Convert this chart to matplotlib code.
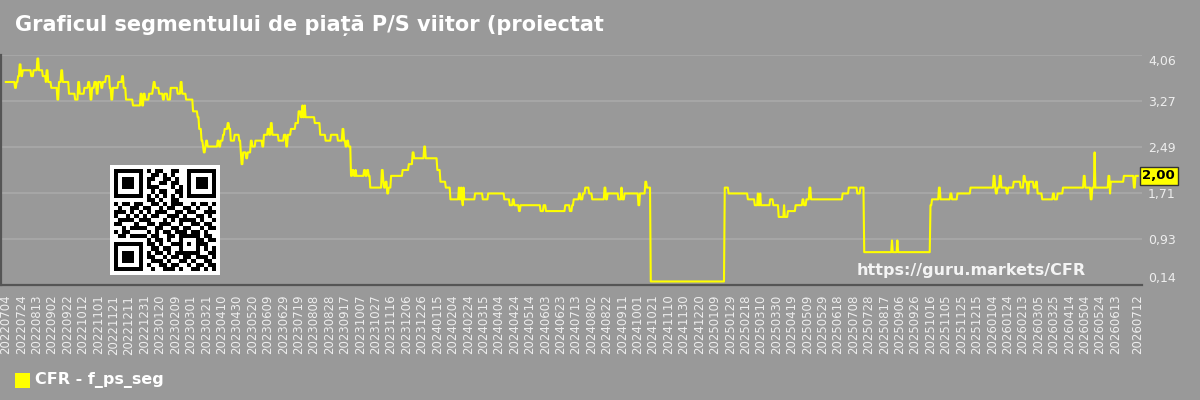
import numpy as np
import pandas as pd
import matplotlib
matplotlib.use("Agg")
import matplotlib.pyplot as plt
import matplotlib.transforms as mtrans
from matplotlib.patches import Rectangle

TITLE = "Graficul segmentului de piață P/S viitor (proiectat"
LEGEND_LABEL = "CFR - f_ps_seg"
WATERMARK = "https://guru.markets/CFR"

# breakpoints of the daily P/S series: from each date on, the value holds until the next one
DATES = [
    "2022-07-04", "2022-07-16", "2022-07-18", "2022-07-20", "2022-07-22", "2022-07-24", "2022-07-26",
    "2022-08-06", "2022-08-09", "2022-08-14", "2022-08-16", "2022-08-21", "2022-08-25", "2022-08-26",
    "2022-08-28", "2022-09-01", "2022-09-09", "2022-09-11", "2022-09-14", "2022-09-16", "2022-09-24",
    "2022-10-02", "2022-10-06", "2022-10-08", "2022-10-14", "2022-10-19", "2022-10-21", "2022-10-22",
    "2022-10-24", "2022-10-27", "2022-10-30", "2022-11-01", "2022-11-05", "2022-11-07", "2022-11-11",
    "2022-11-16", "2022-11-18", "2022-11-20", "2022-11-27", "2022-12-02", "2022-12-04", "2022-12-07",
    "2022-12-16", "2022-12-26", "2022-12-28", "2022-12-30", "2023-01-01", "2023-01-06", "2023-01-11",
    "2023-01-12", "2023-01-14", "2023-01-19", "2023-01-24", "2023-01-26", "2023-01-30", "2023-02-03",
    "2023-02-12", "2023-02-16", "2023-02-18", "2023-02-23", "2023-03-04", "2023-03-10", "2023-03-12",
    "2023-03-15", "2023-03-17", "2023-03-18", "2023-03-20", "2023-03-21", "2023-03-23", "2023-04-05",
    "2023-04-07", "2023-04-09", "2023-04-12", "2023-04-14", "2023-04-18", "2023-04-20", "2023-04-22",
    "2023-04-27", "2023-05-03", "2023-05-05", "2023-05-06", "2023-05-08", "2023-05-12", "2023-05-14",
    "2023-05-18", "2023-05-20", "2023-05-24", "2023-06-02", "2023-06-04", "2023-06-09", "2023-06-11",
    "2023-06-13", "2023-06-15", "2023-06-23", "2023-06-30", "2023-07-03", "2023-07-05", "2023-07-09",
    "2023-07-15", "2023-07-19", "2023-07-22", "2023-07-24", "2023-07-25", "2023-07-27", "2023-07-28",
    "2023-08-09", "2023-08-16", "2023-08-23", "2023-08-30", "2023-09-08", "2023-09-14", "2023-09-16",
    "2023-09-18", "2023-09-20", "2023-09-22", "2023-09-25", "2023-09-27", "2023-09-29", "2023-10-01",
    "2023-10-02", "2023-10-12", "2023-10-14", "2023-10-16", "2023-10-18", "2023-10-20", "2023-11-04",
    "2023-11-06", "2023-11-07", "2023-11-09", "2023-11-11", "2023-11-13", "2023-11-16", "2023-12-01",
    "2023-12-09", "2023-12-14", "2023-12-16", "2023-12-29", "2023-12-31", "2024-01-15", "2024-01-19",
    "2024-01-26", "2024-02-01", "2024-02-12", "2024-02-13", "2024-02-15", "2024-02-16", "2024-02-17",
    "2024-02-18", "2024-02-19", "2024-03-04", "2024-03-14", "2024-03-21", "2024-04-11", "2024-04-18",
    "2024-04-22", "2024-04-24", "2024-04-30", "2024-05-02", "2024-05-28", "2024-06-01", "2024-06-04",
    "2024-06-29", "2024-07-05", "2024-07-08", "2024-07-10", "2024-07-17", "2024-07-19", "2024-07-22",
    "2024-07-25", "2024-07-30", "2024-08-03", "2024-08-19", "2024-08-21", "2024-08-23", "2024-09-06",
    "2024-09-10", "2024-09-11", "2024-09-14", "2024-10-02", "2024-10-04", "2024-10-11", "2024-10-13",
    "2024-10-18", "2025-01-22", "2025-01-27", "2025-02-21", "2025-03-02", "2025-03-06", "2025-03-07",
    "2025-03-09", "2025-03-10", "2025-03-22", "2025-03-26", "2025-04-02", "2025-04-09", "2025-04-10",
    "2025-04-14", "2025-04-24", "2025-05-03", "2025-05-05", "2025-05-08", "2025-05-12", "2025-05-14",
    "2025-06-24", "2025-07-02", "2025-07-13", "2025-07-17", "2025-07-22", "2025-08-27", "2025-08-28",
    "2025-09-03", "2025-09-04", "2025-10-16", "2025-10-18", "2025-10-27", "2025-10-29", "2025-11-11",
    "2025-11-13", "2025-11-20", "2025-12-07", "2026-01-06", "2026-01-08", "2026-01-09", "2026-01-11",
    "2026-01-14", "2026-01-16", "2026-01-23", "2026-01-25", "2026-02-01", "2026-02-10", "2026-02-14",
    "2026-02-16", "2026-02-19", "2026-02-21", "2026-02-27", "2026-03-02", "2026-03-04", "2026-03-10",
    "2026-03-24", "2026-03-26", "2026-03-30", "2026-04-06", "2026-05-03", "2026-05-05", "2026-05-12",
    "2026-05-14", "2026-05-17", "2026-05-18", "2026-06-04", "2026-06-06", "2026-06-07", "2026-06-24",
    "2026-07-07", "2026-07-09", "2026-07-12",
]
VALUES = [
    3.6, 3.5, 3.6, 3.7, 3.9, 3.7, 3.8,
    3.7, 3.8, 4.0, 3.8, 3.7, 3.6, 3.8,
    3.6, 3.5, 3.3, 3.6, 3.8, 3.6, 3.4,
    3.3, 3.6, 3.4, 3.5, 3.6, 3.5, 3.3,
    3.5, 3.6, 3.4, 3.6, 3.5, 3.6, 3.7,
    3.5, 3.3, 3.5, 3.6, 3.7, 3.5, 3.3,
    3.2, 3.4, 3.2, 3.4, 3.3, 3.4, 3.5,
    3.6, 3.5, 3.4, 3.3, 3.4, 3.3, 3.5,
    3.4, 3.6, 3.4, 3.3, 3.1, 3.0, 2.8,
    2.6, 2.5, 2.4, 2.5, 2.6, 2.5, 2.6,
    2.5, 2.6, 2.7, 2.8, 2.9, 2.8, 2.6,
    2.7, 2.6, 2.4, 2.2, 2.4, 2.3, 2.4,
    2.6, 2.5, 2.6, 2.5, 2.7, 2.8, 2.7,
    2.9, 2.7, 2.6, 2.7, 2.5, 2.7, 2.8,
    2.9, 3.1, 3.0, 3.2, 3.0, 3.2, 3.0,
    2.9, 2.7, 2.6, 2.7, 2.6, 2.8, 2.6,
    2.5, 2.6, 2.5, 2.0, 2.1, 2.0, 2.1,
    2.0, 2.1, 2.0, 2.1, 2.0, 1.8, 2.1,
    1.9, 1.8, 1.9, 1.7, 1.8, 2.0, 2.1,
    2.2, 2.4, 2.3, 2.5, 2.3, 2.1, 1.9,
    1.8, 1.6, 1.8, 1.6, 1.8, 1.6, 1.5,
    1.8, 1.6, 1.7, 1.6, 1.7, 1.6, 1.5,
    1.6, 1.5, 1.4, 1.5, 1.4, 1.5, 1.4,
    1.5, 1.4, 1.5, 1.6, 1.7, 1.6, 1.7,
    1.8, 1.7, 1.6, 1.8, 1.6, 1.7, 1.6,
    1.8, 1.6, 1.7, 1.5, 1.7, 1.9, 1.8,
    0.2, 1.8, 1.7, 1.6, 1.5, 1.7, 1.5,
    1.7, 1.5, 1.6, 1.5, 1.3, 1.5, 1.3,
    1.4, 1.5, 1.6, 1.5, 1.6, 1.8, 1.6,
    1.7, 1.8, 1.7, 1.8, 0.7, 0.9, 0.7,
    0.9, 0.7, 1.5, 1.6, 1.8, 1.6, 1.7,
    1.6, 1.7, 1.8, 2.0, 1.8, 1.7, 1.8,
    2.0, 1.8, 1.7, 1.8, 1.9, 1.8, 2.0,
    1.9, 1.7, 1.9, 1.8, 1.9, 1.7, 1.6,
    1.7, 1.6, 1.7, 1.8, 2.0, 1.8, 1.6,
    1.8, 2.4, 1.8, 2.0, 1.7, 1.9, 2.0,
    1.8, 2.0, 2.0,
]

Y_TICKS = [0.14, 0.93, 1.71, 2.49, 3.27, 4.06]
LAST_VALUE = 2.00

# QR code modules (1 = dark)
QR = [
    "1111111010110011001111111",
    "1000001001101010001000001",
    "1011101011001101001011101",
    "1011101010011011001011101",
    "1011101011100010101011101",
    "1000001001011001101000001",
    "1111111010101010101111111",
    "0000000011010011000000000",
    "1011011001101011100101101",
    "0100110110010110011010010",
    "1110101010111001101100111",
    "1001010101100111010011010",
    "0111101110001010111101001",
    "1100010011011100100110110",
    "0010111100110011011001011",
    "1011000010101101110110100",
    "0110111101100110111110110",
    "0000000010110100100011011",
    "1111111011010011101011100",
    "1000001001101100100010101",
    "1011101010110101111110011",
    "1011101011001011011011101",
    "1011101001110100110100110",
    "1000001010011011001011011",
    "1111111001001110100110101",
]

BG = "#999999"
YELLOW = "#ffff00"
TXT = "#eeeeee"

s = pd.Series(VALUES, index=pd.to_datetime(DATES))
daily = s.reindex(pd.date_range(s.index[0], s.index[-1], freq="D")).ffill()

fig = plt.figure(figsize=(12, 4), dpi=100, facecolor=BG)
ax = fig.add_axes([0.001, 0.2875, 0.951, 0.575], facecolor=BG)

ax.plot(daily.index, daily.values, color=YELLOW, lw=1.5, zorder=3)

ax.set_xlim(pd.Timestamp("2022-06-28"), pd.Timestamp("2026-07-18"))
ax.set_ylim(Y_TICKS[0], Y_TICKS[-1])

ax.yaxis.tick_right()
ax.set_yticks(Y_TICKS)
ax.set_yticklabels([f"{v:.2f}".replace(".", ",") for v in Y_TICKS])
ax.tick_params(axis="y", length=0, pad=4, labelsize=9, labelcolor=TXT)
ylabels = ax.get_yticklabels()
ylabels[0].set_va("bottom")
ylabels[-1].set_va("top")
ax.grid(axis="y", color="#a9a9a9", lw=1.2, zorder=1)

xt = list(pd.date_range("2022-07-04", "2026-06-13", freq="20D")) + [pd.Timestamp("2026-07-12")]
ax.set_xticks(xt)
ax.set_xticklabels([d.strftime("%Y%m%d") for d in xt], rotation=90)
ax.tick_params(axis="x", length=0, pad=7, labelsize=8.5, labelcolor=TXT)

for side in ("top", "right"):
    ax.spines[side].set_visible(False)
for side in ("left", "bottom"):
    ax.spines[side].set_color("#555555")
    ax.spines[side].set_linewidth(1.6)

# last value tag on the right axis
trans = mtrans.blended_transform_factory(ax.transAxes, ax.transData)
ax.text(1.0, LAST_VALUE, f"{LAST_VALUE:.2f}".replace(".", ","), transform=trans,
        ha="left", va="center", fontsize=9.5, fontweight="bold", color="black",
        bbox=dict(boxstyle="square,pad=0.2", fc=YELLOW, ec="#333333", lw=1), zorder=5, clip_on=False)

ax.text(0.85, 0.065, WATERMARK, transform=ax.transAxes, ha="center", va="center",
        fontsize=11.5, fontweight="bold", color="#f4f4f4", zorder=4)

fig.text(0.0125, 1 - 25 / 400, TITLE, ha="left", va="center", fontsize=15,
         fontweight="bold", color="white")

# legend
fig.patches.append(Rectangle((15 / 1200, 12 / 400), 15 / 1200, 15 / 400,
                             transform=fig.transFigure, fc=YELLOW, ec="none"))
fig.text(35 / 1200, 20 / 400, LEGEND_LABEL, ha="left", va="center", fontsize=11.5,
         fontweight="bold", color="white")

# QR code block
qr = np.array([[int(c) for c in row] for row in QR])
qr = np.pad(qr, 1)
qax = fig.add_axes([110 / 1200, 125 / 400, 110 / 1200, 110 / 400])
qax.imshow(1 - qr, cmap="gray", vmin=0, vmax=1, interpolation="nearest")
qax.axis("off")

fig.savefig("out.png", dpi=100, facecolor=BG)
